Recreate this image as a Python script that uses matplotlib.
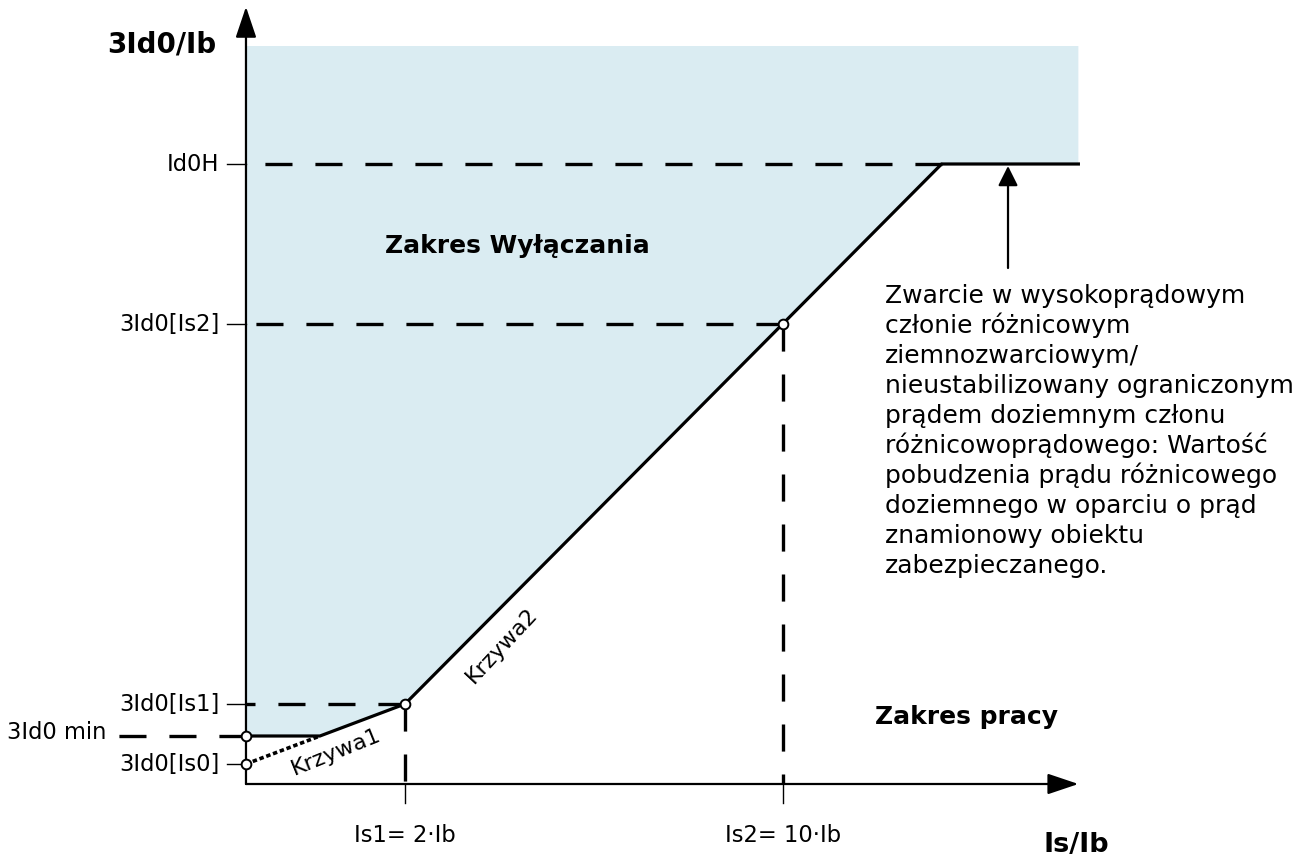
import matplotlib
matplotlib.use('Agg')
import matplotlib.pyplot as plt
from matplotlib.patches import Polygon

plt.rcParams['font.family'] = ['DejaVu Sans']
plt.rcParams['lines.scale_dashes'] = False

# ---- schematic data (chart units) ----
x_is1 = 2.0
x_is2 = 6.75
x_knee_min = 0.93
x_knee_h = 8.75
x_end = 10.47
y_is0 = 0.5
y_min = 1.2
y_is1 = 2.0
y_is2 = 11.5
y_id0h = 15.5
zone_top = 18.45
y_end = 19.43

curve_x = [0.0, x_knee_min, x_is1, x_is2, x_knee_h, x_end]
curve_y = [y_min, y_min, y_is1, y_is2, y_id0h, y_id0h]
dotted_x = [0.0, x_knee_min]
dotted_y = [y_is0, y_min]

ytick_vals = [y_is0, y_is1, y_is2, y_id0h]
ytick_labels = ['3Id0[Is0]', '3Id0[Is1]', '3Id0[Is2]', 'Id0H']
xtick_vals = [x_is1, x_is2]
xtick_labels = ['Is1= 2·Ib', 'Is2= 10·Ib']

note_lines = [
    'Zwarcie w wysokoprądowym',
    'członie różnicowym',
    'ziemnozwarciowym/',
    'nieustabilizowany ograniczonym',
    'prądem doziemnym członu',
    'różnicowoprądowego: Wartość',
    'pobudzenia prądu różnicowego',
    'doziemnego w oparciu o prąd',
    'znamionowy obiektu',
    'zabezpieczanego.',
]

fig = plt.figure(figsize=(13.04, 8.59), dpi=100)
ax = fig.add_axes([0, 0, 1, 1])
ax.set_xlim(-3.094, 13.308)
ax.set_ylim(-1.875, 19.6)
ax.axis('off')

# shaded trip region
poly_x = [0.0] + curve_x + [x_end, 0.0]
poly_y = [zone_top] + curve_y + [zone_top, zone_top]
ax.add_patch(Polygon(list(zip(poly_x, poly_y)), closed=True,
                     facecolor='#daecf2', edgecolor='none', zorder=1))

# axes arrows
arrow_style = '-|>,head_length=19,head_width=6.4'
ax.annotate('', xy=(0, y_end), xytext=(0, 0),
            arrowprops=dict(arrowstyle=arrow_style, lw=1.6, color='black',
                            shrinkA=0, shrinkB=0, mutation_scale=1), zorder=5)
ax.annotate('', xy=(x_end, 0), xytext=(0, 0),
            arrowprops=dict(arrowstyle=arrow_style, lw=1.6, color='black',
                            shrinkA=0, shrinkB=0, mutation_scale=1), zorder=5)

# dashed guide lines
dash = (0, (19.5, 16.5))
lwd = 2.4
ax.plot([x_knee_h, 0], [y_id0h, y_id0h], color='black', lw=lwd, linestyle=dash, zorder=3)
ax.plot([x_is2, 0], [y_is2, y_is2], color='black', lw=lwd, linestyle=dash, zorder=3)
ax.plot([x_is1, 0], [y_is1, y_is1], color='black', lw=lwd, linestyle=dash, zorder=3)
ax.plot([0, -1.648], [y_min, y_min], color='black', lw=lwd, linestyle=dash, zorder=3)
ax.plot([x_is1, x_is1], [y_is1, 0], color='black', lw=lwd, linestyle=dash, zorder=3)
ax.plot([x_is2, x_is2], [y_is2, 0], color='black', lw=lwd, linestyle=dash, zorder=3)

# ticks
for yv in ytick_vals:
    ax.plot([-0.239, 0], [yv, yv], color='black', lw=1.0, zorder=3)
for xv in xtick_vals:
    ax.plot([xv, xv], [0, -0.475], color='black', lw=1.0, zorder=3)

# characteristic curve
ax.plot(curve_x, curve_y, color='black', lw=2.3, solid_joinstyle='miter', zorder=4)
ax.plot(dotted_x, dotted_y, color='black', lw=2.6, linestyle=(0, (3.2, 2.0)), zorder=4)

# open circle markers
ax.plot([0, 0, x_is1, x_is2], [y_min, y_is0, y_is1, y_is2], 'o', ms=7,
        mfc='white', mec='black', mew=1.4, zorder=6)

# tick labels
tfs = 16.3
for yv, lab in zip(ytick_vals, ytick_labels):
    ax.text(-0.33, yv, lab, ha='right', va='center', fontsize=tfs)
ax.text(-1.75, y_min + 0.09, '3Id0 min', ha='right', va='center', fontsize=tfs)
for xv, lab in zip(xtick_vals, xtick_labels):
    ax.text(xv, -1.3, lab, ha='center', va='center', fontsize=tfs)

# axis titles
ax.text(-0.37, 18.5, '3Id0/Ib', ha='right', va='center', fontsize=20, fontweight='bold')
ax.text(10.44, -1.53, 'Is/Ib', ha='center', va='center', fontsize=19.5, fontweight='bold')

# region labels
ax.text(1.75, 13.45, 'Zakres Wyłączania', ha='left', va='center', fontsize=18, fontweight='bold')
ax.text(7.91, 1.68, 'Zakres pracy', ha='left', va='center', fontsize=18, fontweight='bold')

# curve labels
ax.text(1.13, 0.8, 'Krzywa1', ha='center', va='center', fontsize=16, rotation=22)
ax.text(3.22, 3.47, 'Krzywa2', ha='center', va='center', fontsize=16, rotation=47)

# annotation arrow + note
ax.annotate('', xy=(9.585, y_id0h - 0.05), xytext=(9.585, 12.9),
            arrowprops=dict(arrowstyle='-|>,head_length=12,head_width=6', lw=1.6,
                            color='black', shrinkA=0, shrinkB=0, mutation_scale=1), zorder=5)
for i, line in enumerate(note_lines):
    ax.text(8.04, 12.025 - 0.75 * i, line, ha='left', va='baseline', fontsize=18)

fig.savefig('out.png', dpi=100)
